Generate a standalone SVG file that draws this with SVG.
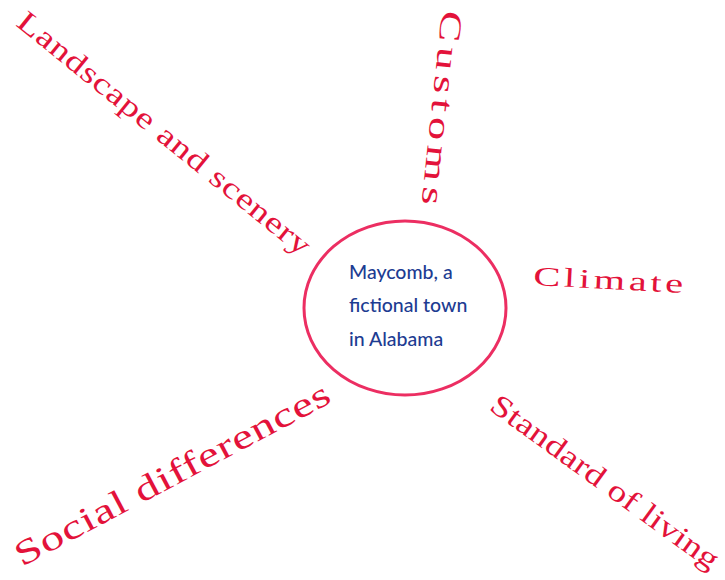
<svg xmlns="http://www.w3.org/2000/svg" width="725" height="580" viewBox="0 0 725 580">
<style>
.lbl{font-family:"Liberation Serif","Times New Roman",serif;fill:#e3123a}
.ctr{font-family:Lato,"Open Sans",sans-serif;font-size:19.5px;fill:#1d3c92;font-weight:500}
</style>
<rect width="725" height="580" fill="#ffffff"/>
<g id="center">
<ellipse cx="405" cy="308" rx="101" ry="87" fill="none" stroke="#ec2e62" stroke-width="3"/>
<text class="ctr" x="349" y="279">Maycomb, a</text>
<text class="ctr" x="349" y="312">fictional town</text>
<text class="ctr" x="349" y="346">in Alabama</text>
</g>
<g id="landscape">
<text class="lbl" font-size="30" transform="translate(15,25) rotate(39) scale(1.27,1)" textLength="290" lengthAdjust="spacing">Landscape and scenery</text>
</g>
<g id="customs">
<text class="lbl" font-size="31" transform="translate(442,10) rotate(96) scale(1.5,1)" textLength="130" lengthAdjust="spacing">Customs</text>
</g>
<g id="climate">
<text class="lbl" font-size="27" transform="translate(533,285) rotate(3) scale(1.5,1)" textLength="100" lengthAdjust="spacing">Climate</text>
</g>
<g id="social">
<text class="lbl" font-size="35" transform="translate(22,567) rotate(-28) scale(1.35,1)" textLength="261" lengthAdjust="spacing">Social differences</text>
</g>
<g id="standard">
<text class="lbl" font-size="30" transform="translate(488,409) rotate(36) scale(1.25,1)" textLength="220" lengthAdjust="spacing">Standard of living</text>
</g>
<g id="connectors"></g>
</svg>
